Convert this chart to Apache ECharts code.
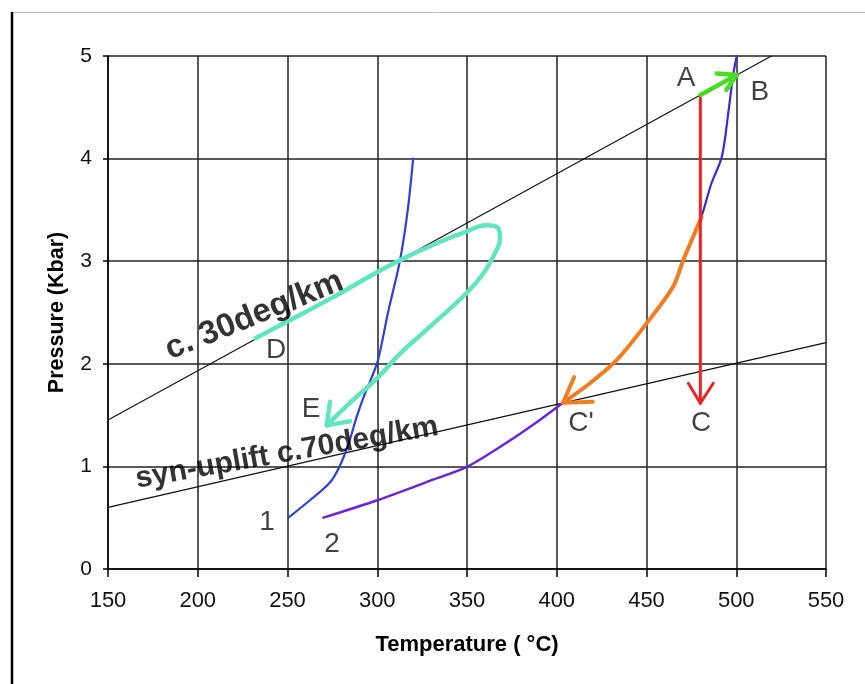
<!DOCTYPE html>
<html><head><meta charset="utf-8">
<script src="https://cdn.jsdelivr.net/npm/echarts@6/dist/echarts.min.js"></script>
<style>html,body{margin:0;padding:0;background:#fff}#c{width:865px;height:684px}</style>
</head><body><div id="c"></div>
<script>
// Axis ranges / ticks
const tempTicks = [150, 200, 250, 300, 350, 400, 450, 500, 550];
const pressTicks = [0, 1, 2, 3, 4, 5];

// Geotherms [T, P]
const geotherm30 = [[150, 1.452], [519.6, 5.0]];
const geotherm70 = [[150, 0.601], [550, 2.206]];

// Reaction curves [T, P]
const curve1 = [[250.5,0.5],[262.5,0.67],[273.5,0.84],[279,1.0],[284,1.22],[288.5,1.48],[292.5,1.68],[296.5,1.85],[300.5,2.04],[306,2.5],[312.7,3.01],[317,3.5],[320,4.0]];
const curve2Low = [[270,0.5],[300,0.67],[331,0.87],[350.5,1.0],[372,1.23],[388,1.42],[403.5,1.62]];
const curve2High = [[403.5,1.62],[418.5,1.81],[433.6,2.04],[450.3,2.4],[464.8,2.75],[470.5,3.01],[480.5,3.43],[486,3.75],[492,4.02],[495.6,4.45],[498.4,4.83],[500.3,5.0]];

// P-T paths
const pathAB = [[480,4.62],[500.2,4.815]];
const headAB = [[489.1,4.83],[500.2,4.815],[494.5,4.67]];
const pathAC = [[480,4.62],[480,1.615]];
const headAC = [[473.3,1.81],[480,1.615],[487.2,1.81]];
const pathBC2 = [[480.7,3.43],[470.5,3.01],[464.8,2.75],[450.3,2.4],[433.6,2.04],[418.5,1.81],[403.5,1.62]];
const headBC2 = [[409.7,1.87],[403.5,1.62],[420,1.63]];
const pathDE = [[232.2,2.25],[249.6,2.41],[275.5,2.65],[300.6,2.9],[312.7,3.01],[331.2,3.16],[349.8,3.29],[361,3.35],[367.4,3.32],[368.4,3.22],[365.6,3.08],[359.1,2.88],[349.8,2.69],[331.2,2.39],[312.7,2.1],[300.6,1.87],[286.7,1.65],[271.8,1.40]];
const headDE = [[273.7,1.63],[271.8,1.40],[284.8,1.44]];

// Annotation labels [name, T, P]
const pointLabels = [['A',472,4.78],['B',513.2,4.65],['C',480.4,1.42],["C'",413.5,1.42],['D',243.6,2.13],['E',263.1,1.56],['1',238.6,0.46],['2',274.8,0.24]];
const geoLabels = [['c. 30deg/km',231.5,2.47,22,33],['syn-uplift c.70deg/km',249.7,1.13,10,30]];

const FONT = 'Liberation Sans, Arial, Helvetica, sans-serif';

function line(data, color, width, z, smooth) {
  return {type:'line', data:data, showSymbol:false, symbol:'none', smooth:smooth||false, z:z,
    lineStyle:{color:color, width:width, cap:'round', join:'round'}, silent:true, animation:false, clip:true,
    emphasis:{disabled:true}};
}

const chart = echarts.init(document.getElementById('c'), null, {renderer:'canvas'});
chart.setOption({
  animation:false,
  backgroundColor:'#fff',
  grid:{left:108, right:39, top:56, bottom:115, containLabel:false},
  graphic:[
    {type:'line', shape:{x1:12,y1:12.5,x2:865,y2:12.5}, style:{stroke:'#bbbbbb', lineWidth:1}, z:0},
    {type:'line', shape:{x1:12,y1:12,x2:12,y2:684}, style:{stroke:'#000', lineWidth:2.5}, z:0}
  ],
  xAxis:{type:'value', min:tempTicks[0], max:tempTicks[tempTicks.length-1], interval:tempTicks[1]-tempTicks[0],
    axisLine:{show:true, onZero:false, lineStyle:{color:'#000', width:1.5}},
    axisTick:{show:true, length:8, lineStyle:{color:'#000', width:1.5}},
    axisLabel:{fontSize:22, color:'#111', margin:21, fontFamily:FONT, showMinLabel:true, showMaxLabel:true},
    splitLine:{show:true, lineStyle:{color:'#222', width:1.5}},
    name:'Temperature ( °C)', nameLocation:'middle', nameGap:65,
    nameTextStyle:{fontSize:22, fontWeight:'bold', color:'#000', fontFamily:FONT}},
  yAxis:{type:'value', min:pressTicks[0], max:pressTicks[pressTicks.length-1], interval:pressTicks[1]-pressTicks[0],
    axisLine:{show:true, onZero:false, lineStyle:{color:'#000', width:1.5}},
    axisTick:{show:true, length:5, lineStyle:{color:'#000', width:1.5}},
    axisLabel:{fontSize:21, color:'#111', margin:16, fontFamily:FONT},
    splitLine:{show:true, lineStyle:{color:'#222', width:1.5}},
    name:'Pressure (Kbar)', nameLocation:'middle', nameGap:40, nameRotate:90,
    nameTextStyle:{fontSize:21.5, fontWeight:'bold', color:'#000', fontFamily:FONT}},
  series:[
    line(geotherm30, '#111', 1.2, 3),
    line(geotherm70, '#111', 1.2, 3),
    line(curve1, '#2f3fd8', 2.2, 4, 0.3),
    line(curve2Low, '#6a24dc', 2.4, 4, 0.3),
    line(curve2High, '#3a2ad6', 2.2, 4, 0.3),
    line(pathDE, '#62e4c0', 4.5, 6, 0.45),
    line(headDE, '#62e4c0', 4.5, 6),
    line(pathBC2, '#f07d22', 4, 7, 0.3),
    line(headBC2, '#f07d22', 4, 7),
    line(pathAC, '#ee2424', 3, 8),
    line(headAC, '#ee2424', 3, 8),
    line(pathAB, '#48dc24', 4.5, 9),
    line(headAB, '#48dc24', 4.5, 9),
    {type:'scatter', symbolSize:1, itemStyle:{color:'rgba(0,0,0,0)'}, silent:true, z:10, animation:false,
     data: pointLabels.map(d => ({name:d[0], value:[d[1], d[2]]})),
     label:{show:true, position:'inside', formatter:'{b}', fontSize:28, color:'#111', fontFamily:FONT}},
    {type:'scatter', symbolSize:1, itemStyle:{color:'rgba(0,0,0,0)'}, silent:true, z:10, animation:false,
     data: geoLabels.map(d => ({name:d[0], value:[d[1], d[2]], label:{rotate:d[3], fontSize:d[4]}})),
     label:{show:true, position:'inside', formatter:'{b}', fontWeight:'bold', color:'#000', fontFamily:FONT}}
  ]
});
</script></body></html>
